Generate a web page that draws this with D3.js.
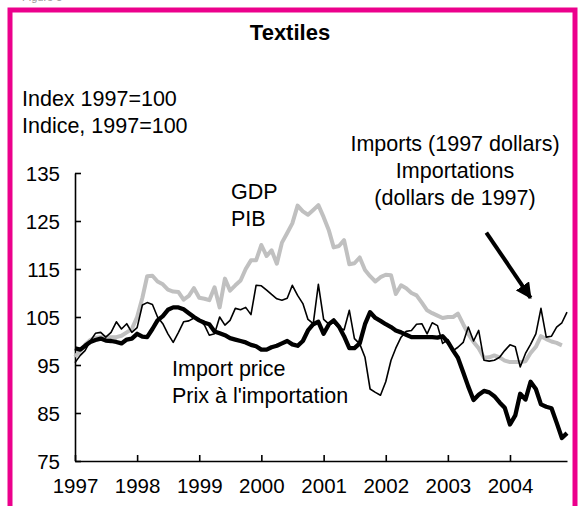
<!DOCTYPE html>
<head>
<meta charset="utf-8">
<style>
  body { margin: 0; background: #fff; }
  svg text { font-family: "Liberation Sans", Arial, sans-serif; }
</style>
</head>
<body>
<svg width="581" height="506" id="svgMain"></svg>
<script src="https://d3js.org/d3.v7.min.js"></script>
<script>
//-----------------------------------------------------
//              DATA (monthly, Jan 1997 - Dec 2004)
//-----------------------------------------------------
var startYear = 1997;
var yearLabels = [1997, 1998, 1999, 2000, 2001, 2002, 2003, 2004];
var yTicks = [75, 85, 95, 105, 115, 125, 135];

var gdp = [
  96.7, 98.0, 99.2, 100.2, 100.7, 100.8, 100.8, 100.8, 100.8, 101.1, 101.8, 102.5,
  105.0, 109.0, 113.5, 113.6, 112.4, 111.8, 110.7, 110.3, 110.2, 108.6, 109.4, 111.0,
  109.0, 108.8, 108.5, 111.2, 107.0, 113.0, 110.5, 111.6, 112.6, 115.0, 116.8, 116.8,
  120.0, 117.7, 118.9, 116.1, 120.5, 122.5, 124.5, 128.2, 127.0, 126.3, 127.3, 128.3,
  125.8, 123.0, 119.5, 119.8, 121.0, 116.0, 116.2, 117.4, 114.8, 113.5, 112.4, 113.3,
  113.8, 113.7, 109.8, 111.6, 111.0, 110.0, 109.5, 108.0, 106.4, 105.8, 105.3, 104.8,
  105.0, 105.0, 105.7, 103.5, 101.5, 99.8, 98.5, 96.5, 96.6, 97.0, 96.6, 95.9,
  95.6, 95.6, 95.6, 95.8, 97.5, 98.8, 101.0, 100.4, 99.9, 99.6, 99.1
];

var importPrice = [
  98.5, 98.2, 99.0, 99.8, 100.2, 100.5, 100.1, 100.0, 99.8, 99.5, 100.3, 100.5,
  101.5, 100.9, 100.8, 102.5, 104.3, 105.2, 106.5, 107.0, 107.0, 106.6, 105.8, 105.0,
  104.3, 103.8, 103.5, 102.0, 101.6, 101.2, 100.6, 100.3, 100.0, 99.7, 99.2, 98.9,
  98.2, 98.2, 98.7, 99.0, 99.5, 100.0, 99.3, 99.0, 100.0, 102.2, 103.5, 104.0,
  101.5, 103.5, 104.3, 103.0, 101.0, 98.5, 98.5, 99.5, 103.5, 106.0, 104.8, 104.2,
  103.5, 102.9, 102.2, 101.8, 101.3, 100.8, 100.8, 100.8, 100.8, 100.8, 100.7, 101.0,
  99.8, 98.0, 96.5, 93.5, 90.5, 87.7, 88.8, 89.6, 89.3, 88.5, 87.2, 86.1,
  82.6, 84.5, 89.0, 87.8, 91.5, 90.0, 86.8, 86.3, 86.0, 83.0, 79.8, 80.8
];

var imports = [
  95.5, 97.0, 98.0, 100.0, 101.6, 101.8, 100.8, 101.8, 104.0, 102.5, 103.6, 101.8,
  102.8, 107.5, 108.0, 107.6, 105.0, 103.6, 101.5, 99.7, 101.8, 104.0, 104.2, 104.8,
  104.5, 103.3, 101.2, 101.5, 105.0, 103.3, 104.3, 106.8, 106.5, 107.0, 105.5, 111.6,
  111.5, 110.6, 109.7, 108.8, 108.5, 108.9, 111.6, 109.5, 107.8, 104.5, 103.6, 111.8,
  104.5, 103.5, 103.8, 102.8, 102.3, 106.4, 100.5, 99.4, 96.6, 90.0, 89.3, 88.7,
  91.5, 96.0, 98.5, 100.8, 102.0, 102.2, 103.5, 103.6, 101.5, 103.8, 103.2, 99.5,
  100.3, 98.0, 98.7, 99.7, 102.9, 100.0, 102.2, 96.0, 95.8, 96.0, 96.6, 98.0,
  99.2, 98.8, 94.6, 97.4, 99.3, 101.5, 106.8, 100.8, 101.0, 102.9, 103.8, 106.0
];

//-----------------------------------------------------
//              DIMENSIONS & SCALES
//-----------------------------------------------------
var svg = d3.select("svg");

var x = d3.scaleTime()
    .domain([new Date(1997, 0, 1), new Date(2004, 11, 1)])
    .range([75, 567]);

var y = d3.scaleLinear()
    .domain([75, 135])
    .range([461, 173]);

function toPoints(arr) {
  return arr.map(function(v, i) { return { date: new Date(startYear, i, 1), value: v }; });
}

var line = d3.line()
    .x(function(d) { return x(d.date); })
    .y(function(d) { return y(d.value); });

//-----------------------------------------------------
//              PINK FRAME + CAPTION
//-----------------------------------------------------
svg.append("rect")
    .attr("x", 10).attr("y", 10)
    .attr("width", 565).attr("height", 520)
    .attr("fill", "none")
    .attr("stroke", "#ec008c")
    .attr("stroke-width", 5);

svg.append("text")
    .attr("x", 22).attr("y", 1)
    .attr("fill", "#999")
    .style("font-size", "11px")
    .text("Figure 5");

svg.append("text")
    .attr("x", 290).attr("y", 40)
    .attr("text-anchor", "middle")
    .style("font-size", "22px")
    .style("font-weight", "bold")
    .text("Textiles");

//-----------------------------------------------------
//              AXES
//-----------------------------------------------------
var gx = svg.append("g")
    .attr("transform", "translate(0," + y(75) + ")")
    .call(d3.axisBottom(x)
      .tickValues(yearLabels.map(function(yr) { return new Date(yr, 0, 1); }))
      .tickFormat(d3.timeFormat("%Y"))
      .tickSize(-6)
      .tickSizeOuter(0));

var gy = svg.append("g")
    .attr("transform", "translate(" + x(new Date(1997, 0, 1)) + ",0)")
    .call(d3.axisLeft(y)
      .tickValues(yTicks)
      .tickSize(-6)
      .tickSizeOuter(0));

[gx, gy].forEach(function(g) {
  g.select(".domain").attr("stroke", "#000").attr("stroke-width", 1.6);
  g.selectAll(".tick line").attr("stroke", "#000").attr("stroke-width", 1.6);
  g.selectAll(".tick text")
      .attr("fill", "#000")
      .style("font-family", "'Liberation Sans', Arial, sans-serif")
      .style("font-size", "20.5px");
});
gx.selectAll(".tick text").attr("y", 17).attr("dy", "0.71em");
gy.selectAll(".tick text").attr("x", -15).attr("dy", "0.35em");

//-----------------------------------------------------
//              SERIES
//-----------------------------------------------------
svg.append("path")
    .datum(toPoints(gdp))
    .attr("fill", "none")
    .attr("stroke", "#c0c0c0")
    .attr("stroke-width", 4)
    .attr("stroke-linejoin", "round")
    .attr("d", line);

svg.append("path")
    .datum(toPoints(imports))
    .attr("fill", "none")
    .attr("stroke", "#000")
    .attr("stroke-width", 1.6)
    .attr("stroke-linejoin", "round")
    .attr("d", line);

svg.append("path")
    .datum(toPoints(importPrice))
    .attr("fill", "none")
    .attr("stroke", "#000")
    .attr("stroke-width", 4.3)
    .attr("stroke-linejoin", "round")
    .attr("d", line);

//-----------------------------------------------------
//              LABELS
//-----------------------------------------------------
function label(lines, px, py, anchor) {
  var t = svg.append("text")
      .attr("x", px).attr("y", py)
      .attr("text-anchor", anchor)
      .style("font-size", "21.5px");
  lines.forEach(function(s, i) {
    t.append("tspan").attr("x", px).attr("dy", i === 0 ? 0 : 27).text(s);
  });
}

label(["Index 1997=100", "Indice, 1997=100"], 22, 106, "start");
label(["GDP", "PIB"], 231, 199, "start");
label(["Imports (1997 dollars)", "Importations", "(dollars de 1997)"], 455, 151, "middle");
label(["Import price", "Prix à l'importation"], 172, 376, "start");

//-----------------------------------------------------
//              ARROW
//-----------------------------------------------------
svg.append("defs").append("marker")
    .attr("id", "head")
    .attr("viewBox", "0 0 10 10")
    .attr("refX", 9).attr("refY", 5)
    .attr("markerWidth", 4).attr("markerHeight", 4)
    .attr("orient", "auto")
  .append("path")
    .attr("d", "M0,0L10,5L0,10z")
    .attr("fill", "#000");

svg.append("line")
    .attr("x1", x(new Date(2003, 7, 15))).attr("y1", y(122.6))
    .attr("x2", x(new Date(2004, 4, 1))).attr("y2", y(109))
    .attr("stroke", "#000")
    .attr("stroke-width", 4)
    .attr("marker-end", "url(#head)");
</script>
</body>
